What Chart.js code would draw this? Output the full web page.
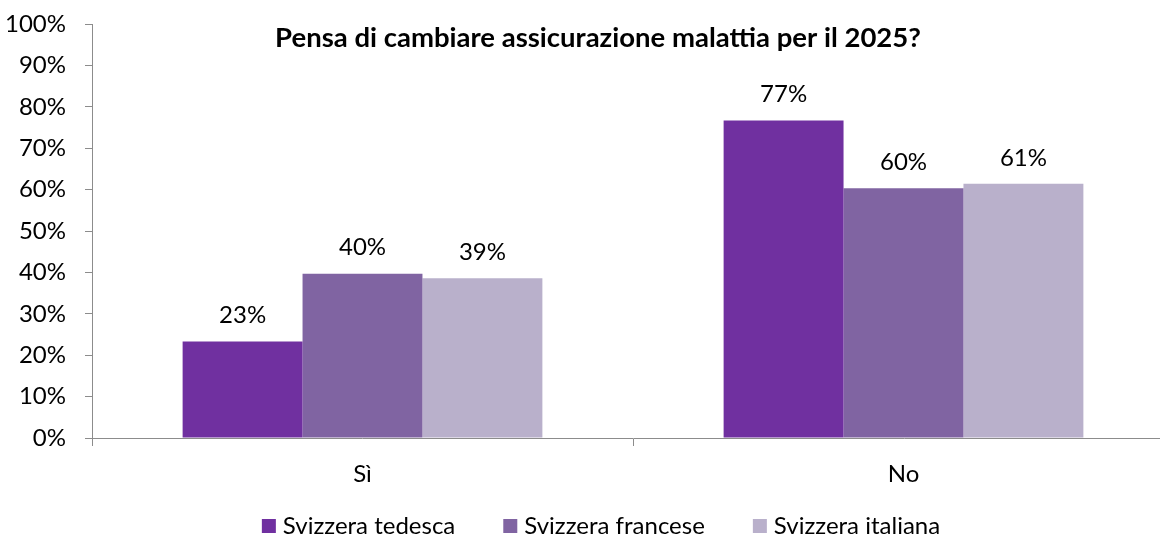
<!DOCTYPE html>
<html>
<head>
<meta charset="utf-8">
<script src="https://cdn.jsdelivr.net/npm/chart.js@4.4.1/dist/chart.umd.min.js"></script>
<style>
  html, body { margin: 0; padding: 0; background: #ffffff; overflow: hidden; }
  #wrap { width: 1160px; height: 538px; overflow: hidden; position: relative; }
  #box { width: 1194px; height: 538px; position: absolute; left: 0; top: 0; }
</style>
</head>
<body>
<div id="wrap"><div id="box"><canvas id="c" width="1194" height="538"></canvas></div></div>
<script>
const categories = ["Sì", "No"];
const seriesNames = ["Svizzera tedesca", "Svizzera francese", "Svizzera italiana"];
const tedesca = [23.3, 76.7];
const francese = [39.7, 60.3];
const italiana = [38.6, 61.4];
const yTicks = [0, 10, 20, 30, 40, 50, 60, 70, 80, 90, 100];
const chartTitle = "Pensa di cambiare assicurazione malattia per il 2025?";
const colors = ["#7030A0", "#8064A2", "#B9B0CB"];

const FONT = "Lato, 'Open Sans', sans-serif";
const AXIS = "#8C8C8C";

const titlePlugin = {
  id: 'customTitle',
  afterDraw(chart) {
    const ctx = chart.ctx;
    ctx.save();
    ctx.font = "bold 27.5px " + FONT;
    ctx.fillStyle = "#000";
    ctx.textAlign = "center";
    ctx.textBaseline = "middle";
    ctx.fillText(chartTitle, 598, 38);
    ctx.restore();
  }
};

const valueLabels = {
  id: 'valueLabels',
  afterDatasetsDraw(chart) {
    const ctx = chart.ctx;
    ctx.save();
    ctx.font = "24px " + FONT;
    ctx.fillStyle = "#000";
    ctx.textAlign = "center";
    ctx.textBaseline = "middle";
    chart.data.datasets.forEach((ds, i) => {
      const meta = chart.getDatasetMeta(i);
      meta.data.forEach((bar, j) => {
        ctx.fillText(Math.round(ds.data[j]) + "%", bar.x, bar.y - 26);
      });
    });
    ctx.restore();
  }
};

const customLegend = {
  id: 'customLegend',
  afterDraw(chart) {
    const ctx = chart.ctx;
    ctx.save();
    ctx.font = "24px " + FONT;
    ctx.textBaseline = "middle";
    ctx.textAlign = "left";
    const box = 14, gapBT = 7, gapItems = 48;
    const items = chart.data.datasets.map(d => ({ label: d.label, color: d.backgroundColor, w: box + gapBT + ctx.measureText(d.label).width }));
    const total = items.reduce((s, it) => s + it.w, 0) + gapItems * (items.length - 1);
    let x = 601 - total / 2;
    const cy = 526;
    items.forEach(it => {
      ctx.fillStyle = it.color;
      ctx.fillRect(x, cy - box / 2, box, box);
      ctx.fillStyle = "#000";
      ctx.fillText(it.label, x + box + gapBT, cy);
      x += it.w + gapItems;
    });
    ctx.restore();
  }
};

new Chart(document.getElementById('c'), {
  type: 'bar',
  data: {
    labels: categories,
    datasets: [
      { label: seriesNames[0], data: tedesca, backgroundColor: colors[0] },
      { label: seriesNames[1], data: francese, backgroundColor: colors[1] },
      { label: seriesNames[2], data: italiana, backgroundColor: colors[2] }
    ]
  },
  options: {
    responsive: false,
    animation: false,
    devicePixelRatio: 1,
    layout: { padding: { top: 24, right: 20, left: 0, bottom: 0 } },
    datasets: { bar: { categoryPercentage: 0.665, barPercentage: 1.0 } },
    plugins: {
      legend: { display: false },
      title: { display: false },
      tooltip: { enabled: false }
    },
    scales: {
      x: {
        offset: true,
        grid: { display: true, offset: true, drawOnChartArea: false, drawTicks: true, tickLength: 8, color: AXIS, lineWidth: 1 },
        border: { display: true, color: AXIS, width: 1 },
        ticks: { color: "#000", font: { family: FONT, size: 24 }, padding: 14 },
        afterFit(scale) { scale.height = 100; scale.paddingLeft = 0; scale.paddingRight = 0; }
      },
      y: {
        min: 0, max: 100,
        afterBuildTicks(scale) { scale.ticks = yTicks.map(v => ({ value: v })); },
        grid: { display: true, drawOnChartArea: false, drawTicks: true, tickLength: 7, color: AXIS, lineWidth: 1 },
        border: { display: true, color: AXIS, width: 1 },
        ticks: { color: "#000", font: { family: FONT, size: 24 }, padding: 19, callback: v => v + "%" },
        afterFit(scale) { scale.width = 92; scale.paddingTop = 0; scale.paddingBottom = 0; }
      }
    }
  },
  plugins: [titlePlugin, valueLabels, customLegend]
});
</script>
</body>
</html>
